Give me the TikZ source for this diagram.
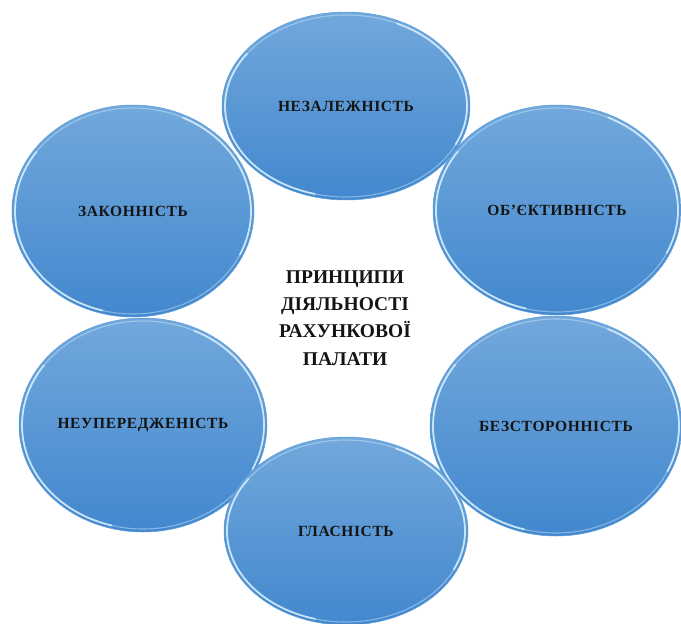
\documentclass[tikz,border=0pt]{standalone}
\usepackage{fontspec}
\setmainfont{Liberation Serif}
\newfontfamily\labelfont[LetterSpace=4]{Liberation Serif}
\usetikzlibrary{shapes.geometric}
\definecolor{btop}{RGB}{114,168,220}
\definecolor{bbot}{RGB}{66,136,206}
\definecolor{bedge}{RGB}{92,158,218}
\definecolor{rimc}{RGB}{215,238,253}
\tikzset{
  bubble/.style={ellipse, inner sep=0pt, outer sep=0pt, top color=btop, bottom color=bbot,
     draw=bedge, line width=0.5pt,
     font=\labelfont\bfseries\fontsize{15.5}{17}\selectfont, text=black!92},
  rimsoft/.style={draw=rimc, line width=1.1pt, opacity=0.45},
  rimhi/.style={draw=rimc, line width=1.8pt, opacity=0.85, line cap=round},
  title/.style={align=center, font=\bfseries\fontsize{19.5}{27.3}\selectfont, text=black!92}
}
\newcommand{\bubbleat}[6]{%
  \node[bubble, minimum width=#4*2pt, minimum height=#5*2pt] (#1) at (#2,#3) {\raisebox{-2pt}{#6}};
  \draw[rimsoft] (#1.center) ellipse [x radius=#4-3, y radius=#5-3];
  \draw[rimhi] (#1.center) ++(105:#4-3 and #5-3) arc [start angle=105, end angle=215, x radius=#4-3, y radius=#5-3];
  \draw[rimhi] (#1.center) ++(295:#4-3 and #5-3) arc [start angle=295, end angle=385, x radius=#4-3, y radius=#5-3];
}
\begin{document}
\begin{tikzpicture}[x=1pt,y=-1pt]
\useasboundingbox (0,0) rectangle (681,624);
\clip (0,0) rectangle (681,624);
\bubbleat{top}{346}{106}{124}{94}{НЕЗАЛЕЖНІСТЬ}
\bubbleat{ul}{133}{211}{121}{106}{ЗАКОННІСТЬ}
\bubbleat{ur}{557}{210}{124}{105}{ОБ’ЄКТИВНІСТЬ}
\bubbleat{ll}{143}{425}{124}{107}{НЕУПЕРЕДЖЕНІСТЬ}
\bubbleat{lr}{556}{426}{126}{110}{БЕЗСТОРОННІСТЬ}
\bubbleat{bot}{346}{531}{122}{94}{ГЛАСНІСТЬ}
\node[title] (c) at (345,318) {ПРИНЦИПИ\\ДІЯЛЬНОСТІ\\РАХУНКОВОЇ\\ПАЛАТИ};
\end{tikzpicture}
\end{document}
